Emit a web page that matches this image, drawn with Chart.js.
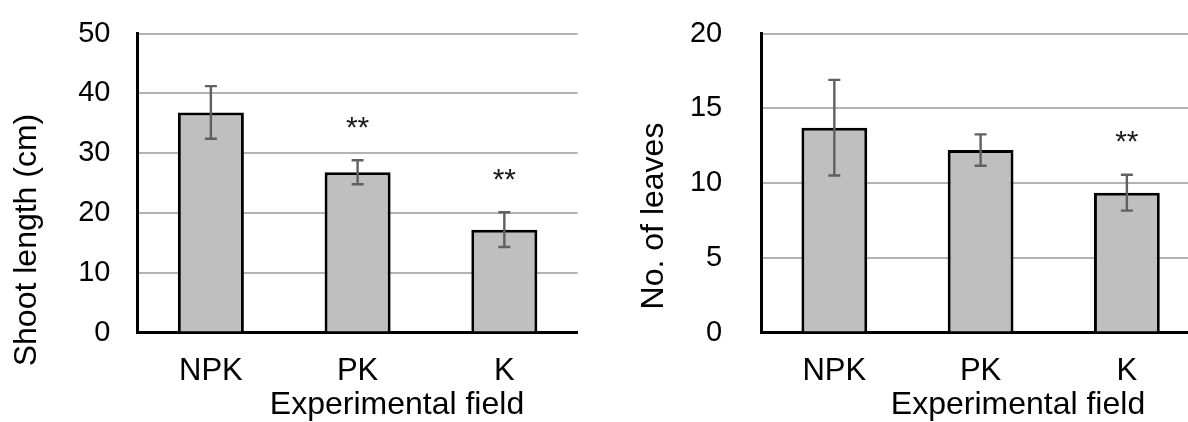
<!DOCTYPE html>
<html>
<head>
<meta charset="utf-8">
<script src="https://cdn.jsdelivr.net/npm/chart.js@4/dist/chart.umd.min.js"></script>
<style>
  html, body { margin: 0; padding: 0; background: #fff; overflow: hidden; }
  #page { position: relative; width: 1188px; height: 422px; overflow: hidden; }
  .panel { position: absolute; top: 0; height: 422px; }
</style>
</head>
<body>
<div id="page">
  <div class="panel" style="left:0;width:600px"><canvas id="shootChart" width="600" height="422"></canvas></div>
  <div class="panel" style="left:600px;width:620px"><canvas id="leafChart" width="620" height="422"></canvas></div>
</div>
<script>
const categories = ['NPK', 'PK', 'K'];

const shootLength = [36.8, 26.8, 17.2];
const shootLengthErr = [4.4, 2.0, 2.9];
const shootLengthSig = ['', '**', '**'];
const shootTicks = [0, 10, 20, 30, 40, 50];

const leafCount = [13.7, 12.2, 9.35];
const leafCountErr = [3.2, 1.05, 1.2];
const leafCountSig = ['', '', '**'];
const leafTicks = [0, 5, 10, 15, 20];

const FONT = '"Liberation Sans", Arial, sans-serif';

// error bars, significance stars and the axis titles
const barExtras = {
  id: 'barExtras',
  afterDatasetsDraw(chart, args, opts) {
    const ctx = chart.ctx;
    const y = chart.scales.y;
    const meta = chart.getDatasetMeta(0);
    const values = chart.data.datasets[0].data;
    ctx.save();
    ctx.strokeStyle = '#606060';
    ctx.lineWidth = 2.4;
    values.forEach((v, i) => {
      const cx = meta.data[i].x;
      const top = y.getPixelForValue(v + opts.errors[i]);
      const bot = y.getPixelForValue(v - opts.errors[i]);
      ctx.beginPath();
      ctx.moveTo(cx, top); ctx.lineTo(cx, bot);
      ctx.moveTo(cx - 6, top); ctx.lineTo(cx + 6, top);
      ctx.moveTo(cx - 6, bot); ctx.lineTo(cx + 6, bot);
      ctx.stroke();
      if (opts.marks[i]) {
        ctx.fillStyle = '#1a1a1a';
        ctx.font = '30px ' + FONT;
        ctx.textAlign = 'center';
        ctx.textBaseline = 'middle';
        ctx.fillText(opts.marks[i], cx, top - 32);
      }
    });
    ctx.restore();
  },
  afterDraw(chart, args, opts) {
    const ctx = chart.ctx;
    ctx.save();
    ctx.fillStyle = '#000';
    ctx.font = '32px ' + FONT;
    ctx.textAlign = 'center';
    ctx.textBaseline = 'middle';
    ctx.fillText(opts.xTitle, opts.xTitleAt[0], opts.xTitleAt[1]);
    ctx.translate(opts.yTitleAt[0], opts.yTitleAt[1]);
    ctx.rotate(-Math.PI / 2);
    ctx.fillText(opts.yTitle, 0, 0);
    ctx.restore();
  }
};

function makeChart(id, values, errors, marks, ticks, cfg) {
  const maxVal = ticks[ticks.length - 1];
  return new Chart(document.getElementById(id), {
    type: 'bar',
    data: {
      labels: categories,
      datasets: [{
        data: values,
        backgroundColor: '#bfbfbf',
        borderColor: '#000',
        borderWidth: 3,
        barPercentage: 0.45,
        categoryPercentage: 1
      }]
    },
    options: {
      responsive: false,
      animation: false,
      layout: { padding: { left: 0, top: 33.5, right: cfg.rightPad, bottom: 0 } },
      plugins: {
        legend: { display: false },
        tooltip: { enabled: false },
        barExtras: {
          errors: errors,
          marks: marks,
          xTitle: 'Experimental field',
          xTitleAt: cfg.xTitleAt,
          yTitle: cfg.yTitle,
          yTitleAt: cfg.yTitleAt
        }
      },
      scales: {
        x: {
          grid: { display: false, drawTicks: false },
          border: { color: '#000', width: 3 },
          ticks: { color: '#000', padding: 20, font: { family: FONT, size: 31 } },
          afterFit: s => { s.height = 89.5; }
        },
        y: {
          min: 0,
          max: maxVal,
          afterBuildTicks: s => { s.ticks = ticks.map(v => ({ value: v })); },
          // invisible tick marks give the gap between labels and axis
          grid: { color: '#b3b3b3', lineWidth: 2, drawTicks: true, tickLength: cfg.tickGap, tickColor: 'rgba(0,0,0,0)' },
          border: { color: '#000', width: 3 },
          ticks: { color: '#000', padding: 0, font: { family: FONT, size: 29 } },
          afterFit: s => { s.width = cfg.axisX; }
        }
      }
    },
    plugins: [barExtras]
  });
}

makeChart('shootChart', shootLength, shootLengthErr, shootLengthSig, shootTicks, {
  axisX: 137.5, rightPad: 22.3, tickGap: 27,
  yTitle: 'Shoot length (cm)', yTitleAt: [27, 240],
  xTitleAt: [397, 405]
});

makeChart('leafChart', leafCount, leafCountErr, leafCountSig, leafTicks, {
  axisX: 161.2, rightPad: 20, tickGap: 39,
  yTitle: 'No. of leaves', yTitleAt: [54, 216],
  xTitleAt: [418, 405]
});
</script>
</body>
</html>
